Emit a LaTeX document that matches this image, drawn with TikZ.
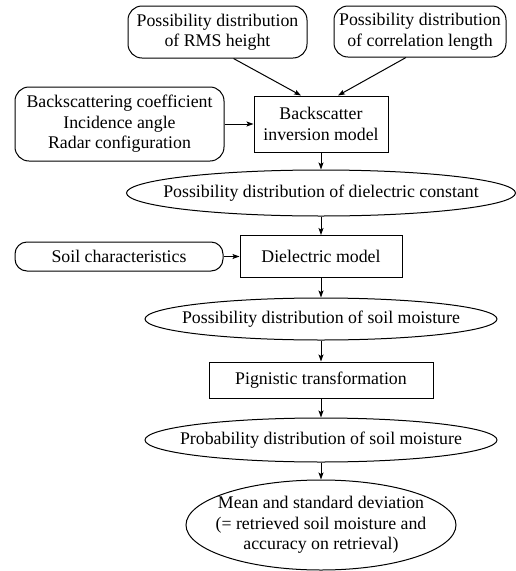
\documentclass[tikz,border=0pt]{standalone}
\usepackage{fontspec}
\setmainfont{Liberation Serif}
\usetikzlibrary{shapes.geometric,arrows.meta}

\begin{document}
\begin{tikzpicture}[x=1pt,y=1pt,
    font=\fontsize{17.8}{20.5}\selectfont,
    line width=1pt,
    >={Stealth[length=7pt,width=5pt,inset=1.5pt]},
    inputbox/.style={draw, rectangle, rounded corners=14pt, align=center, inner sep=2pt},
    modelbox/.style={draw, rectangle, align=center, inner sep=2pt},
    databox/.style={draw, ellipse, align=center, inner xsep=-40pt, inner ysep=0pt}]
    \useasboundingbox (0,0) rectangle (516,-571);

    \node[inputbox, minimum width=179, minimum height=52] (rms) at (217.5,-32) {Possibility distribution\\of RMS height};
    \node[inputbox, minimum width=172, minimum height=51] (corr) at (420,-31.5) {Possibility distribution\\of correlation length};
    \node[inputbox, minimum width=209, minimum height=74] (radar) at (119.5,-124) {Backscattering coefficient\\Incidence angle\\Radar configuration};
    \node[modelbox, minimum width=134, minimum height=56] (inv) at (321,-124) {Backscatter\\inversion model};
    \node[databox, minimum width=389, minimum height=46] (perm) at (321,-193) {Possibility distribution of dielectric constant};

    \node[inputbox, rounded corners=12pt, minimum width=208, minimum height=29] (soil) at (119,-256.5) {Soil characteristics};
    \node[modelbox, minimum width=162, minimum height=42] (diel) at (321,-256.5) {Dielectric model};
    \node[databox, minimum width=352, minimum height=42] (posm) at (321,-319) {Possibility distribution of soil moisture};
    \node[modelbox, minimum width=224, minimum height=36] (pign) at (321,-380) {Pignistic transformation};
    \node[databox, minimum width=352, minimum height=44] (probm) at (321,-440) {Probability distribution of soil moisture};
    \node[databox, minimum width=270, minimum height=90] (result) at (321,-525) {Mean and standard deviation\\(= retrieved soil moisture and\\accuracy on retrieval)};

    \draw[->] ([xshift=16]rms.south) -- ([xshift=-20]inv.north);
    \draw[->] ([xshift=-14]corr.south) -- ([xshift=17]inv.north);
    \draw[->] (radar.east) -- (inv.west);
    \draw[->] (inv.south) -- (perm.north);
    \draw[->] (perm.south) -- (diel.north);
    \draw[->] (soil.east) -- (diel.west);
    \draw[->] (diel.south) -- (posm.north);
    \draw[->] (posm.south) -- (pign.north);
    \draw[->] (pign.south) -- (probm.north);
    \draw[->] (probm.south) -- (result.north);
\end{tikzpicture}
\end{document}
